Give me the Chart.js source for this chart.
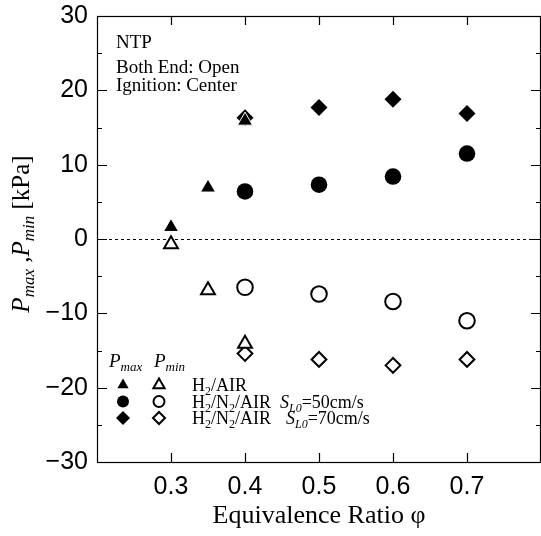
<!DOCTYPE html>
<html lang="en">
<head>
<meta charset="UTF-8" />
<title>Pmax, Pmin vs Equivalence Ratio</title>
<script src="https://cdn.jsdelivr.net/npm/chart.js"></script>
<style>
  html, body { margin: 0; padding: 0; background: #fff; }
  .chart-container { position: relative; width: 541px; height: 536px; }
</style>
</head>
<body>
<div class="chart-container"><canvas id="pressureChart"></canvas></div>
<script>
// equivalence ratio for each mixture
const phiH2Air = [0.3, 0.35, 0.4];
const phiH2N2Air = [0.4, 0.5, 0.6, 0.7];

// H2/AIR (kPa)
const pmaxH2Air = [1.6, 6.9, 15.9];
const pminH2Air = [-0.7, -6.9, -14.1];
// H2/N2/AIR, SL0 = 50 cm/s
const pmaxSL50 = [6.4, 7.3, 8.4, 11.5];
const pminSL50 = [-6.5, -7.4, -8.4, -11.0];
// H2/N2/AIR, SL0 = 70 cm/s
const pmaxSL70 = [16.3, 17.7, 18.8, 16.9];
const pminSL70 = [-15.4, -16.2, -17.0, -16.2];

// labelled ticks
const xTickLabels = [0.3, 0.4, 0.5, 0.6, 0.7];
const yTickLabels = [-30, -20, -10, 0, 10, 20, 30];

const notes = ["NTP", "Both End: Open", "Ignition: Center"];

const SERIF = "'Liberation Serif', 'Times New Roman', serif";
const SANS = "'Liberation Sans', Arial, sans-serif";

const pts = (xs, ys) => xs.map((x, i) => ({ x: x, y: ys[i] }));

function series(label, xs, ys, style, filled, r) {
  return {
    label: label,
    data: pts(xs, ys),
    pointStyle: style,
    pointRadius: r,
    pointHoverRadius: r,
    backgroundColor: filled ? "#000" : "#fff",
    borderColor: "#000",
    borderWidth: filled ? 0 : 2,
    showLine: false
  };
}

// triangles first so they are painted on top of the diamonds
const datasets = [
  Object.assign(series("H2/AIR Pmax", phiH2Air, pmaxH2Air, "triangle", true, 8.7),
    { borderColor: "#fff", borderWidth: 1 }),
  series("H2/AIR Pmin", phiH2Air, pminH2Air, "triangle", false, 8),
  series("SL0=50 Pmax", phiH2N2Air, pmaxSL50, "circle", true, 8.3),
  series("SL0=50 Pmin", phiH2N2Air, pminSL50, "circle", false, 7.8),
  series("SL0=70 Pmax", phiH2N2Air, pmaxSL70, "rectRot", true, 8.5),
  series("SL0=70 Pmin", phiH2N2Air, pminSL70, "rectRot", false, 7.4)
];

// small marker painter for the hand drawn key
function marker(ctx, style, x, y, r, filled) {
  ctx.beginPath();
  if (style === "circle") {
    ctx.arc(x, y, r, 0, Math.PI * 2);
  } else if (style === "triangle") {
    for (let k = 0; k < 3; k++) {
      const a = k * 2 * Math.PI / 3;
      const px = x + Math.sin(a) * r, py = y - Math.cos(a) * r;
      if (k === 0) ctx.moveTo(px, py); else ctx.lineTo(px, py);
    }
    ctx.closePath();
  } else {
    ctx.moveTo(x, y - r); ctx.lineTo(x + r, y); ctx.lineTo(x, y + r); ctx.lineTo(x - r, y);
    ctx.closePath();
  }
  if (filled) { ctx.fillStyle = "#000"; ctx.fill(); }
  else { ctx.fillStyle = "#fff"; ctx.fill(); ctx.lineWidth = 2; ctx.strokeStyle = "#000"; ctx.stroke(); }
}

// draw a run of [text, font, baselineShift] pieces, returns end x
function runText(ctx, parts, x, y) {
  for (const p of parts) {
    ctx.font = p[1];
    ctx.fillText(p[0], x, y + (p[2] || 0));
    x += ctx.measureText(p[0]).width;
  }
  return x;
}
function runWidth(ctx, parts) {
  let w = 0;
  for (const p of parts) { ctx.font = p[1]; w += ctx.measureText(p[0]).width; }
  return w;
}

const framePlugin = {
  id: "frame",
  beforeDatasetsDraw(chart) {
    const ctx = chart.ctx, a = chart.chartArea;
    const xs = chart.scales.x, ys = chart.scales.y;
    ctx.save();
    // dashed zero line
    const y0 = Math.round(ys.getPixelForValue(0)) + 0.5;
    ctx.strokeStyle = "#000";
    ctx.lineWidth = 1;
    ctx.setLineDash([3, 3]);
    ctx.beginPath(); ctx.moveTo(a.left, y0); ctx.lineTo(a.right, y0); ctx.stroke();
    ctx.setLineDash([]);
    // frame
    ctx.lineWidth = 1.2;
    ctx.strokeRect(a.left + 0.5, a.top + 0.5, a.right - a.left - 1, a.bottom - a.top);
    // inward ticks
    ctx.beginPath();
    xs.ticks.forEach(t => {
      const v = Math.round(t.value * 10) / 10;
      if (!xTickLabels.includes(v)) return;
      const px = Math.round(xs.getPixelForValue(t.value)) + 0.5;
      ctx.moveTo(px, a.bottom); ctx.lineTo(px, a.bottom - 9);
      ctx.moveTo(px, a.top); ctx.lineTo(px, a.top + 9);
    });
    ys.ticks.forEach(t => {
      const len = t.value % 10 === 0 ? 10 : 5;
      const py = Math.round(ys.getPixelForValue(t.value)) + 0.5;
      ctx.moveTo(a.left, py); ctx.lineTo(a.left + len, py);
      ctx.moveTo(a.right, py); ctx.lineTo(a.right - len, py);
    });
    ctx.stroke();
    ctx.restore();
  },
  afterDraw(chart) {
    const ctx = chart.ctx;
    ctx.save();
    ctx.fillStyle = "#000";
    ctx.textBaseline = "alphabetic";
    ctx.textAlign = "left";

    // conditions
    ctx.font = "19px " + SERIF;
    ctx.fillText(notes[0], 116, 48);
    ctx.fillText(notes[1], 116, 73);
    ctx.fillText(notes[2], 116, 91);

    // y axis title, rotated
    const big = "25px " + SERIF, bigI = "italic 25px " + SERIF, subI = "italic 17px " + SERIF;
    const yParts = [["P", bigI], ["max", subI, 5], [" ,", big], ["P", bigI], ["min", subI, 5], [" [kPa]", big]];
    ctx.save();
    ctx.translate(29, 234);
    ctx.rotate(-Math.PI / 2);
    runText(ctx, yParts, -runWidth(ctx, yParts) / 2, 0);
    ctx.restore();

    // key
    const kI = "italic 19px " + SERIF, kSub = "italic 13px " + SERIF;
    runText(ctx, [["P", kI], ["max", kSub, 4]], 109, 367);
    runText(ctx, [["P", kI], ["min", kSub, 4]], 154, 367);
    const rows = [
      { y: 385, base: 391, style: "triangle", rf: 6.5, ro: 6.5, parts: [["H", 0], ["2", 1], ["/AIR", 0]], sl: null },
      { y: 401.5, base: 407.5, style: "circle", rf: 6, ro: 5.5, parts: [["H", 0], ["2", 1], ["/N", 0], ["2", 1], ["/AIR", 0]], sl: ["50", 280] },
      { y: 418, base: 424, style: "rectRot", rf: 7, ro: 6, parts: [["H", 0], ["2", 1], ["/N", 0], ["2", 1], ["/AIR", 0]], sl: ["70", 286] }
    ];
    const rF = "18px " + SERIF, rS = "12px " + SERIF, rI = "italic 18px " + SERIF, rIS = "italic 12px " + SERIF;
    rows.forEach(row => {
      marker(ctx, row.style, 123, row.y, row.rf, true);
      marker(ctx, row.style, 159, row.y, row.ro, false);
      ctx.fillStyle = "#000";
      runText(ctx, row.parts.map(p => p[1] ? [p[0], rS, 4] : [p[0], rF]), 192, row.base);
      if (row.sl) {
        runText(ctx, [["S", rI], ["L0", rIS, 4], ["=" + row.sl[0] + "cm/s", rF]], row.sl[1], row.base);
      }
    });
    ctx.restore();
  }
};

new Chart(document.getElementById("pressureChart"), {
  type: "scatter",
  data: { datasets: datasets },
  options: {
    responsive: true,
    maintainAspectRatio: false,
    animation: false,
    layout: { autoPadding: false, padding: { top: 16, right: 0, bottom: 0, left: 0 } },
    plugins: { legend: { display: false }, tooltip: { enabled: false } },
    scales: {
      x: {
        type: "linear",
        min: 0.2,
        max: 0.8,
        afterFit: s => { s.height = 74; s.paddingLeft = 0; s.paddingRight = 0; },
        grid: { display: false, drawTicks: false },
        border: { display: false },
        ticks: {
          stepSize: 0.1,
          padding: 10,
          autoSkip: false,
          maxRotation: 0,
          color: "#000",
          font: { family: SANS, size: 25 },
          callback: v => {
            const r = Math.round(v * 10) / 10;
            return xTickLabels.includes(r) ? r.toFixed(1) : "";
          }
        },
        title: {
          display: true,
          text: "Equivalence Ratio \u03c6",
          color: "#000",
          font: { family: SERIF, size: 26 },
          padding: { top: 0, bottom: 4 }
        }
      },
      y: {
        type: "linear",
        min: -30,
        max: 30,
        afterFit: s => { s.width = 97; s.paddingTop = 0; s.paddingBottom = 0; },
        grid: { display: false, drawTicks: false },
        border: { display: false },
        ticks: {
          stepSize: 5,
          padding: 9,
          autoSkip: false,
          color: "#000",
          font: { family: SANS, size: 25 },
          callback: v => yTickLabels.includes(v) ? (v < 0 ? "\u2212" + (-v) : String(v)) : ""
        }
      }
    }
  },
  plugins: [framePlugin]
});
</script>
</body>
</html>
